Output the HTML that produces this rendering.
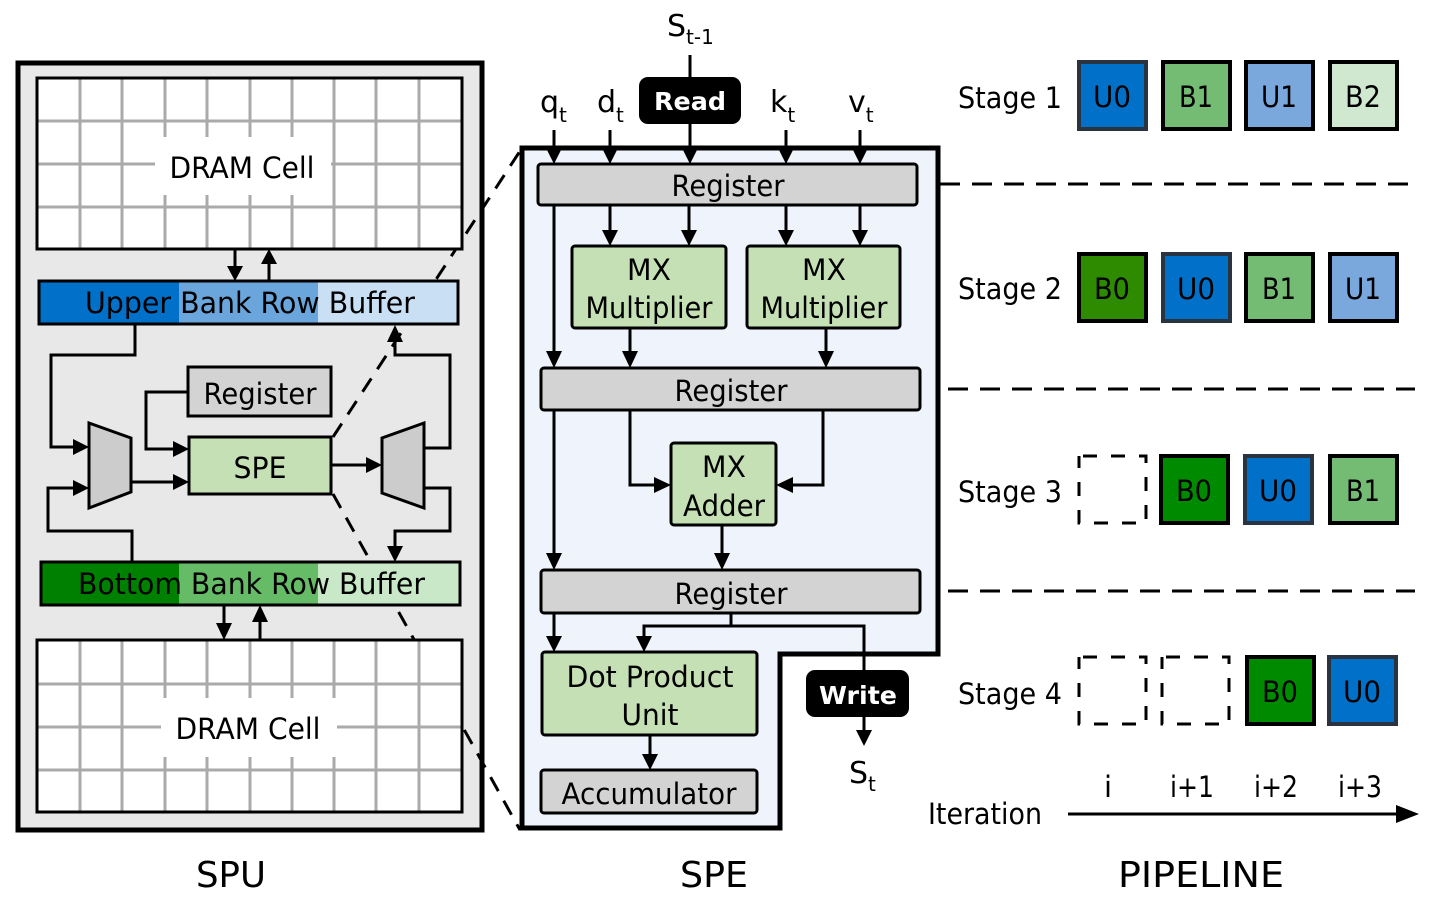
<!DOCTYPE html>
<html><head><meta charset="utf-8"><style>
html,body{margin:0;padding:0;background:#fff}
svg{display:block}
text{font-family:"DejaVu Sans","Liberation Sans",sans-serif;fill:#000}
</style></head><body>
<svg width="1429" height="903" viewBox="0 0 1429 903" xmlns="http://www.w3.org/2000/svg">
<g id="spu">
<rect x="18" y="63" width="464" height="767" fill="#e8e8e8" stroke="#000" stroke-width="5"/>
<!-- dashed zoom lines (behind SPU contents) -->
<g stroke="#000" stroke-width="3" stroke-dasharray="16,11" fill="none">
<line x1="333" y1="437" x2="522" y2="148"/>
<line x1="333" y1="494" x2="520" y2="830"/>
</g>
<!-- top DRAM -->
<rect x="37" y="78" width="425" height="171" fill="#fff"/>
<g stroke="#aaa" stroke-width="3">
<line x1="80" y1="78" x2="80" y2="249"/><line x1="122" y1="78" x2="122" y2="249"/>
<line x1="165" y1="78" x2="165" y2="137"/><line x1="165" y1="195" x2="165" y2="249"/>
<line x1="207" y1="78" x2="207" y2="137"/><line x1="207" y1="195" x2="207" y2="249"/>
<line x1="250" y1="78" x2="250" y2="137"/><line x1="250" y1="195" x2="250" y2="249"/>
<line x1="292" y1="78" x2="292" y2="137"/><line x1="292" y1="195" x2="292" y2="249"/>
<line x1="334" y1="78" x2="334" y2="249"/><line x1="376" y1="78" x2="376" y2="249"/><line x1="419" y1="78" x2="419" y2="249"/>
<line x1="37" y1="121" x2="462" y2="121"/><line x1="37" y1="207" x2="462" y2="207"/>
<line x1="37" y1="164" x2="155" y2="164"/><line x1="331" y1="164" x2="462" y2="164"/>
</g>
<rect x="37" y="78" width="425" height="171" fill="none" stroke="#000" stroke-width="3"/>
<text x="242" y="178" font-size="29" text-anchor="middle" textLength="145" lengthAdjust="spacingAndGlyphs">DRAM Cell</text>
<!-- upper buffer -->
<rect x="39" y="281" width="140" height="43" fill="#0070c8"/>
<rect x="179" y="281" width="139" height="43" fill="#6aa6dc"/>
<rect x="318" y="281" width="140" height="43" fill="#c9dff3"/>
<rect x="39" y="281" width="419" height="43" fill="none" stroke="#000" stroke-width="3"/>
<text x="85" y="313" font-size="29" textLength="330" lengthAdjust="spacingAndGlyphs">Upper Bank Row Buffer</text>
<!-- bottom buffer -->
<rect x="41" y="562" width="138" height="43" fill="#008000"/>
<rect x="179" y="562" width="139" height="43" fill="#66bb66"/>
<rect x="318" y="562" width="142" height="43" fill="#c8e8c8"/>
<rect x="41" y="562" width="419" height="43" fill="none" stroke="#000" stroke-width="3"/>
<text x="78" y="594" font-size="29" textLength="347" lengthAdjust="spacingAndGlyphs">Bottom Bank Row Buffer</text>
<!-- bottom DRAM -->
<rect x="37" y="640" width="425" height="172" fill="#fff"/>
<g stroke="#aaa" stroke-width="3">
<line x1="80" y1="640" x2="80" y2="812"/><line x1="122" y1="640" x2="122" y2="812"/>
<line x1="165" y1="640" x2="165" y2="698"/><line x1="165" y1="757" x2="165" y2="812"/>
<line x1="207" y1="640" x2="207" y2="698"/><line x1="207" y1="757" x2="207" y2="812"/>
<line x1="250" y1="640" x2="250" y2="698"/><line x1="250" y1="757" x2="250" y2="812"/>
<line x1="292" y1="640" x2="292" y2="698"/><line x1="292" y1="757" x2="292" y2="812"/>
<line x1="334" y1="640" x2="334" y2="698"/><line x1="334" y1="757" x2="334" y2="812"/>
<line x1="376" y1="640" x2="376" y2="812"/><line x1="419" y1="640" x2="419" y2="812"/>
<line x1="37" y1="684" x2="462" y2="684"/><line x1="37" y1="770" x2="462" y2="770"/>
<line x1="37" y1="727" x2="161" y2="727"/><line x1="337" y1="727" x2="462" y2="727"/>
</g>
<rect x="37" y="640" width="425" height="172" fill="none" stroke="#000" stroke-width="3"/>
<text x="248" y="739" font-size="29" text-anchor="middle" textLength="145" lengthAdjust="spacingAndGlyphs">DRAM Cell</text>
<!-- register & spe -->
<rect x="188" y="367" width="143" height="49" fill="#d3d3d3" stroke="#000" stroke-width="3"/>
<text x="260" y="404" font-size="29" text-anchor="middle" textLength="113" lengthAdjust="spacingAndGlyphs">Register</text>
<rect x="189" y="437" width="142" height="57" fill="#c5e0b4" stroke="#000" stroke-width="3"/>
<text x="260" y="478" font-size="29" text-anchor="middle" textLength="53" lengthAdjust="spacingAndGlyphs">SPE</text>
<polygon points="89,423 131,438 131,492 89,508" fill="#cccccc" stroke="#000" stroke-width="3"/>
<polygon points="424,423 382,438 382,493 424,508" fill="#cccccc" stroke="#000" stroke-width="3"/>
<g stroke="#000" stroke-width="3" fill="none">
<line x1="235" y1="249" x2="235" y2="268"/><line x1="269" y1="262" x2="269" y2="281"/>
<line x1="224" y1="605" x2="224" y2="625"/><line x1="260" y1="620" x2="260" y2="640"/>
<polyline points="135,324 135,355 51,355 51,447 75,447"/>
<polyline points="132,562 132,531 48,531 48,488 75,488"/>
<line x1="131" y1="482" x2="175" y2="482"/>
<polyline points="188,392 146,392 146,449 175,449"/>
<line x1="331" y1="465" x2="368" y2="465"/>
<polyline points="424,448 450,448 450,355 395,355 395,340"/>
<polyline points="424,488 450,488 450,531 395,531 395,548"/>
</g>
<g fill="#000">
<polygon points="227,266 243,266 235,281"/><polygon points="261,264 277,264 269,249"/>
<polygon points="216,623 232,623 224,640"/><polygon points="252,622 268,622 260,605"/>
<polygon points="73,439 73,455 89,447"/><polygon points="73,480 73,496 89,488"/>
<polygon points="173,474 173,490 189,482"/><polygon points="173,441 173,457 189,449"/>
<polygon points="366,457 366,473 382,465"/>
<polygon points="387,342 403,342 395,325"/><polygon points="387,546 403,546 395,562"/>
</g>
</g>
<!-- SPE panel -->
<polygon points="522,148 938,148 938,654 780,654 780,828 522,828" fill="#eef3fc" stroke="#000" stroke-width="5"/>
<g stroke="#000" stroke-width="3" fill="none">
<line x1="690" y1="55" x2="690" y2="77"/>
<line x1="554" y1="130" x2="554" y2="152"/><line x1="610" y1="130" x2="610" y2="152"/>
<line x1="690" y1="124" x2="690" y2="152"/><line x1="786" y1="130" x2="786" y2="152"/>
<line x1="860" y1="130" x2="860" y2="152"/>
<line x1="610" y1="205" x2="610" y2="233"/><line x1="689" y1="205" x2="689" y2="233"/>
<line x1="786" y1="205" x2="786" y2="233"/><line x1="860" y1="205" x2="860" y2="233"/>
<line x1="554" y1="205" x2="554" y2="352"/>
<line x1="630" y1="328" x2="630" y2="352"/><line x1="826" y1="328" x2="826" y2="352"/>
<polyline points="630,410 630,485 656,485"/><polyline points="823,410 823,485 790,485"/>
<line x1="722" y1="525" x2="722" y2="555"/><line x1="554" y1="410" x2="554" y2="555"/>
<line x1="554" y1="613" x2="554" y2="637"/>
<polyline points="731,613 731,626 644,626 644,637"/>
<polyline points="731,626 864,626 864,670"/>
<line x1="864" y1="717" x2="864" y2="732"/>
<line x1="650" y1="735" x2="650" y2="756"/>
</g>
<g fill="#000">
<polygon points="546,148 562,148 554,164"/><polygon points="602,148 618,148 610,164"/>
<polygon points="682,148 698,148 690,164"/><polygon points="778,148 794,148 786,164"/>
<polygon points="852,148 868,148 860,164"/>
<polygon points="602,230 618,230 610,246"/><polygon points="681,230 697,230 689,246"/>
<polygon points="778,230 794,230 786,246"/><polygon points="852,230 868,230 860,246"/>
<polygon points="546,351 562,351 554,368"/><polygon points="622,351 638,351 630,368"/>
<polygon points="818,351 834,351 826,368"/>
<polygon points="654,477 654,493 671,485"/><polygon points="793,477 793,493 776,485"/>
<polygon points="714,553 730,553 722,570"/><polygon points="546,553 562,553 554,570"/>
<polygon points="546,636 562,636 554,652"/><polygon points="636,636 652,636 644,652"/>
<polygon points="642,754 658,754 650,770"/><polygon points="856,730 872,730 864,746"/>
</g>
<rect x="639" y="77" width="102" height="47" rx="9" fill="#000"/>
<text x="690" y="110" font-size="25" font-weight="bold" text-anchor="middle" style="fill:#fff" textLength="72" lengthAdjust="spacingAndGlyphs">Read</text>
<rect x="806" y="670" width="103" height="47" rx="9" fill="#000"/>
<text x="858" y="704" font-size="25" font-weight="bold" text-anchor="middle" style="fill:#fff" textLength="78" lengthAdjust="spacingAndGlyphs">Write</text>
<text x="667" y="36" font-size="30">S<tspan font-size="20" dy="8">t-1</tspan></text>
<text x="540" y="112" font-size="30">q<tspan font-size="20" dy="10">t</tspan></text>
<text x="597" y="112" font-size="30">d<tspan font-size="20" dy="10">t</tspan></text>
<text x="770" y="112" font-size="30">k<tspan font-size="20" dy="10">t</tspan></text>
<text x="848" y="112" font-size="30">v<tspan font-size="20" dy="10">t</tspan></text>
<text x="849" y="783" font-size="30">S<tspan font-size="20" dy="8">t</tspan></text>
<g stroke="#000" stroke-width="3">
<rect x="538" y="164" width="379" height="41" rx="3" fill="#d3d3d3"/>
<rect x="572" y="246" width="154" height="82" rx="3" fill="#c5e0b4"/>
<rect x="747" y="246" width="153" height="82" rx="3" fill="#c5e0b4"/>
<rect x="541" y="368" width="379" height="42" rx="3" fill="#d3d3d3"/>
<rect x="671" y="443" width="105" height="82" rx="3" fill="#c5e0b4"/>
<rect x="541" y="570" width="379" height="43" rx="3" fill="#d3d3d3"/>
<rect x="542" y="652" width="215" height="83" rx="3" fill="#c5e0b4"/>
<rect x="541" y="770" width="216" height="43" rx="3" fill="#d3d3d3"/>
</g>
<g font-size="29" text-anchor="middle">
<text x="728" y="196" textLength="113" lengthAdjust="spacingAndGlyphs">Register</text>
<text x="649" y="280" textLength="44" lengthAdjust="spacingAndGlyphs">MX</text>
<text x="649" y="318" textLength="127" lengthAdjust="spacingAndGlyphs">Multiplier</text>
<text x="824" y="280" textLength="44" lengthAdjust="spacingAndGlyphs">MX</text>
<text x="824" y="318" textLength="127" lengthAdjust="spacingAndGlyphs">Multiplier</text>
<text x="731" y="401" textLength="113" lengthAdjust="spacingAndGlyphs">Register</text>
<text x="724" y="477" textLength="44" lengthAdjust="spacingAndGlyphs">MX</text>
<text x="724" y="516" textLength="82" lengthAdjust="spacingAndGlyphs">Adder</text>
<text x="731" y="604" textLength="113" lengthAdjust="spacingAndGlyphs">Register</text>
<text x="650" y="687" textLength="167" lengthAdjust="spacingAndGlyphs">Dot Product</text>
<text x="650" y="725" textLength="57" lengthAdjust="spacingAndGlyphs">Unit</text>
<text x="649" y="804" textLength="175" lengthAdjust="spacingAndGlyphs">Accumulator</text>
</g>
<!-- section titles -->
<g font-size="36" text-anchor="middle">
<text x="231" y="887" textLength="70" lengthAdjust="spacingAndGlyphs">SPU</text>
<text x="714" y="887" textLength="68" lengthAdjust="spacingAndGlyphs">SPE</text>
<text x="1201" y="887" textLength="166" lengthAdjust="spacingAndGlyphs">PIPELINE</text>
</g>
<!-- pipeline -->
<g stroke="#000" stroke-width="3" stroke-dasharray="20,12">
<line x1="940" y1="184" x2="1410" y2="184"/>
<line x1="948" y1="389" x2="1415" y2="389"/>
<line x1="948" y1="591" x2="1415" y2="591"/>
</g>
<g font-size="29">
<text x="958" y="108" textLength="104" lengthAdjust="spacingAndGlyphs">Stage 1</text>
<text x="958" y="299" textLength="104" lengthAdjust="spacingAndGlyphs">Stage 2</text>
<text x="958" y="502" textLength="104" lengthAdjust="spacingAndGlyphs">Stage 3</text>
<text x="958" y="704" textLength="104" lengthAdjust="spacingAndGlyphs">Stage 4</text>
<text x="928" y="824" textLength="114" lengthAdjust="spacingAndGlyphs">Iteration</text>
</g>
<g stroke="#000" stroke-width="4">
<rect x="1079" y="62" width="67" height="67" fill="#0070c8" stroke="#2a3440"/>
<rect x="1163" y="62" width="67" height="67" fill="#74bb74"/>
<rect x="1246" y="62" width="67" height="67" fill="#7aa8dc"/>
<rect x="1330" y="62" width="67" height="67" fill="#d0e8d0"/>
<rect x="1079" y="254" width="67" height="67" fill="#2e8b00"/>
<rect x="1163" y="254" width="67" height="67" fill="#0070c8" stroke="#2a3440"/>
<rect x="1246" y="254" width="67" height="67" fill="#74bb74"/>
<rect x="1330" y="254" width="67" height="67" fill="#7aa8dc"/>
<rect x="1161" y="456" width="67" height="67" fill="#008a00"/>
<rect x="1245" y="456" width="67" height="67" fill="#0070c8" stroke="#2a3440"/>
<rect x="1330" y="456" width="67" height="67" fill="#74bb74"/>
<rect x="1247" y="657" width="67" height="67" fill="#008a00"/>
<rect x="1329" y="657" width="67" height="67" fill="#0070c8" stroke="#2a3440"/>
</g>
<g stroke="#000" stroke-width="3" fill="none" stroke-dasharray="14,14" stroke-dashoffset="-4">
<rect x="1079" y="456" width="67" height="67"/>
<rect x="1079" y="657" width="67" height="67"/>
<rect x="1162" y="657" width="67" height="67"/>
</g>
<g font-size="29" text-anchor="middle">
<text x="1112" y="107" textLength="38" lengthAdjust="spacingAndGlyphs">U0</text><text x="1196" y="107" textLength="34" lengthAdjust="spacingAndGlyphs">B1</text><text x="1279" y="107" textLength="36" lengthAdjust="spacingAndGlyphs">U1</text><text x="1363" y="107" textLength="36" lengthAdjust="spacingAndGlyphs">B2</text>
<text x="1112" y="299" textLength="36" lengthAdjust="spacingAndGlyphs">B0</text><text x="1196" y="299" textLength="38" lengthAdjust="spacingAndGlyphs">U0</text><text x="1279" y="299" textLength="34" lengthAdjust="spacingAndGlyphs">B1</text><text x="1363" y="299" textLength="36" lengthAdjust="spacingAndGlyphs">U1</text>
<text x="1194" y="501" textLength="36" lengthAdjust="spacingAndGlyphs">B0</text><text x="1278" y="501" textLength="38" lengthAdjust="spacingAndGlyphs">U0</text><text x="1363" y="501" textLength="34" lengthAdjust="spacingAndGlyphs">B1</text>
<text x="1280" y="702" textLength="36" lengthAdjust="spacingAndGlyphs">B0</text><text x="1362" y="702" textLength="38" lengthAdjust="spacingAndGlyphs">U0</text>
<text x="1108" y="797">i</text><text x="1192" y="797" textLength="44" lengthAdjust="spacingAndGlyphs">i+1</text><text x="1276" y="797" textLength="44" lengthAdjust="spacingAndGlyphs">i+2</text><text x="1360" y="797" textLength="44" lengthAdjust="spacingAndGlyphs">i+3</text>
</g>
<line x1="1068" y1="814" x2="1400" y2="814" stroke="#000" stroke-width="3"/>
<polygon points="1396,805 1396,823 1419,814" fill="#000"/>
</svg>
</body></html>
